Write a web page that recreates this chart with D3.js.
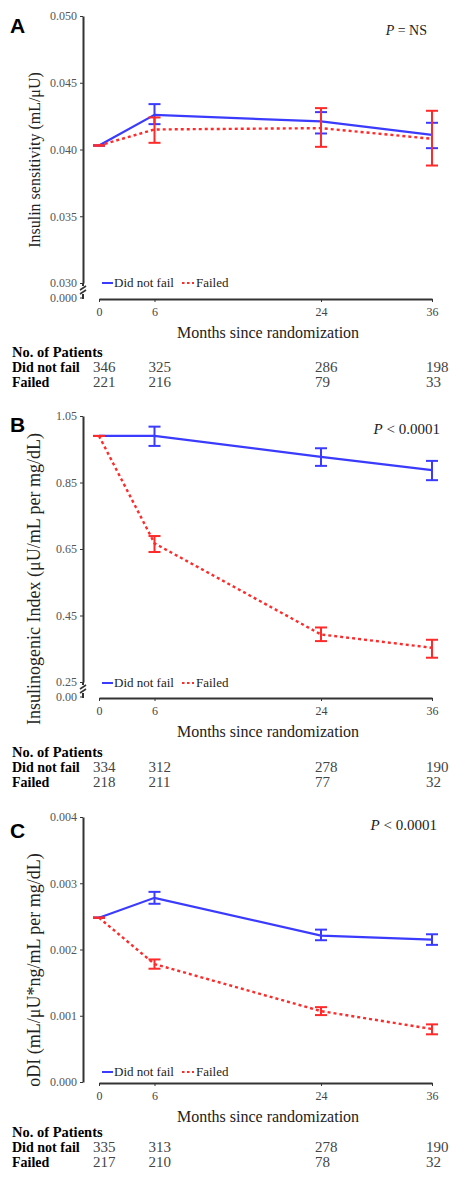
<!DOCTYPE html>
<html>
<head>
<meta charset="utf-8">
<script src="https://cdn.jsdelivr.net/npm/d3@7"></script>
<style>
body { margin: 0; background: #fff; }
svg text { font-family: "Liberation Serif", "Times New Roman", serif; }
</style>
</head>
<body>
<svg id="chart" width="450" height="1178"></svg>
<script>
//////////////////////////////////////////////////////////////////////////////
// data

var months = [0, 6, 24, 36];

// A: insulin sensitivity
var aNotFail   = [0.0403, 0.0426, 0.0421, 0.0411];
var aNotFailLo = [0.0403, 0.0419, 0.0412, 0.0401];
var aNotFailHi = [0.0403, 0.0434, 0.0428, 0.0420];
var aFailed    = [0.0403, 0.0415, 0.0416, 0.0408];
var aFailedLo  = [0.0403, 0.0405, 0.0402, 0.0388];
var aFailedHi  = [0.0403, 0.0424, 0.0431, 0.0429];
var aTicks = [0.030, 0.035, 0.040, 0.045, 0.050];
var aPatientsNotFail = [346, 325, 286, 198];
var aPatientsFailed  = [221, 216, 79, 33];

// B: insulinogenic index
var bNotFail   = [0.99, 0.99, 0.927, 0.887];
var bNotFailLo = [0.99, 0.96, 0.90, 0.857];
var bNotFailHi = [0.99, 1.018, 0.953, 0.915];
var bFailed    = [0.99, 0.667, 0.393, 0.353];
var bFailedLo  = [0.99, 0.641, 0.373, 0.323];
var bFailedHi  = [0.99, 0.689, 0.414, 0.377];
var bTicks = [0.25, 0.45, 0.65, 0.85, 1.05];
var bPatientsNotFail = [334, 312, 278, 190];
var bPatientsFailed  = [218, 211, 77, 32];

// C: oDI
var cNotFail   = [0.00248, 0.00278, 0.00221, 0.00215];
var cNotFailLo = [0.00248, 0.00269, 0.00214, 0.00207];
var cNotFailHi = [0.00248, 0.00287, 0.00230, 0.00223];
var cFailed    = [0.00248, 0.00178, 0.00107, 0.00080];
var cFailedLo  = [0.00248, 0.00171, 0.00101, 0.00072];
var cFailedHi  = [0.00248, 0.00185, 0.00113, 0.00087];
var cTicks = [0.000, 0.001, 0.002, 0.003, 0.004];
var cPatientsNotFail = [335, 313, 278, 190];
var cPatientsFailed  = [217, 210, 78, 32];

var BLUE = "#3b3bff";
var RED = "#ff2a2a";
var AXIS = "#333";

var svg = d3.select("#chart");
var x = d3.scaleLinear().domain([0, 36]).range([99, 432]);

function series(vals, lo, hi) {
    return months.map(function (t, i) { return { t: t, v: vals[i], lo: lo[i], hi: hi[i] }; });
}

function drawGroup(g, y, data, color, dashed) {
    var bars = g.append("g").selectAll("g").data(data).enter().append("g")
        .attr("stroke", color).attr("stroke-width", 2);
    bars.append("line")
        .attr("x1", function (d) { return x(d.t); }).attr("x2", function (d) { return x(d.t); })
        .attr("y1", function (d) { return y(d.lo); }).attr("y2", function (d) { return y(d.hi); });
    ["lo", "hi"].forEach(function (k) {
        bars.append("line")
            .attr("x1", function (d) { return x(d.t) - 6; }).attr("x2", function (d) { return x(d.t) + 6; })
            .attr("y1", function (d) { return y(d[k]); }).attr("y2", function (d) { return y(d[k]); });
    });
    g.append("path").datum(data)
        .attr("fill", "none").attr("stroke", color)
        .attr("stroke-width", dashed ? 2.4 : 2.2)
        .attr("stroke-dasharray", dashed ? "3,3" : null)
        .attr("d", d3.line().x(function (d) { return x(d.t); }).y(function (d) { return y(d.v); }));
}

function drawPanel(p) {
    var g = svg.append("g");
    var y = d3.scaleLinear().domain([p.ticks[0], p.ticks[p.ticks.length - 1]]).range([p.yBottom, p.yTop]);

    // panel letter
    g.append("text").attr("x", 10).attr("y", p.letterY)
        .style("font-family", "'Liberation Sans', Arial, sans-serif")
        .style("font-weight", "bold").style("font-size", "21px").text(p.letter);

    // y axis
    var ya = g.append("g").attr("transform", "translate(83,0)")
        .call(d3.axisLeft(y).tickValues(p.ticks).tickFormat(p.fmt).tickSize(3).tickSizeOuter(0).tickPadding(3));
    ya.select(".domain").attr("stroke", AXIS).attr("stroke-width", 2);
    ya.selectAll(".tick line").attr("stroke", AXIS);
    ya.selectAll(".tick text").attr("fill", "#555").style("font-size", "12px")
        .style("font-family", "'Liberation Serif', serif");

    if (p.zeroY) {
        // axis break down to the zero label
        var b = p.yBottom;
        g.append("line").attr("x1", 83).attr("x2", 83).attr("y1", b).attr("y2", b + 3)
            .attr("stroke", AXIS).attr("stroke-width", 2);
        [b + 5, b + 9].forEach(function (yy) {
            g.append("line").attr("x1", 80).attr("x2", 86).attr("y1", yy + 2).attr("y2", yy - 2)
                .attr("stroke", AXIS).attr("stroke-width", 1.6);
        });
        g.append("line").attr("x1", 83).attr("x2", 83).attr("y1", b + 11).attr("y2", p.zeroY + 1)
            .attr("stroke", AXIS).attr("stroke-width", 2);
        g.append("line").attr("x1", 80).attr("x2", 83).attr("y1", p.zeroY).attr("y2", p.zeroY)
            .attr("stroke", AXIS);
        g.append("text").attr("x", 77).attr("y", p.zeroY).attr("dy", "0.32em")
            .attr("text-anchor", "end").attr("fill", "#555").style("font-size", "12px")
            .text(p.zeroLabel);
    }

    // y title
    g.append("text").attr("transform", "translate(40," + p.titleY + ") rotate(-90)")
        .attr("text-anchor", "middle").style("font-size", p.titleSize + "px").attr("fill", "#222")
        .text(p.title);

    // x axis
    var xa = g.append("g").attr("transform", "translate(0," + p.xAxisY + ")")
        .call(d3.axisBottom(x).tickValues(months).tickSize(3).tickSizeOuter(0).tickPadding(5));
    xa.select(".domain").attr("stroke", AXIS).attr("stroke-width", 2);
    xa.selectAll(".tick line").attr("stroke", AXIS);
    xa.selectAll(".tick text").attr("fill", "#444").style("font-size", "12px")
        .style("font-family", "'Liberation Serif', serif");

    g.append("text").attr("x", 268).attr("y", p.xAxisY + 39).attr("text-anchor", "middle")
        .style("font-size", "16px").attr("fill", "#222").text("Months since randomization");

    // P value
    var pt = g.append("text").attr("x", p.pX).attr("y", p.pY).attr("text-anchor", "end")
        .style("font-size", p.pSize + "px").attr("fill", "#222");
    pt.append("tspan").style("font-style", "italic").text("P");
    pt.append("tspan").text(p.pText);

    // series
    drawGroup(g.append("g"), y, series(p.notFail, p.notFailLo, p.notFailHi), BLUE, false);
    drawGroup(g.append("g"), y, series(p.failed, p.failedLo, p.failedHi), RED, true);

    // legend
    var ly = p.legendY;
    g.append("line").attr("x1", 102).attr("x2", 113).attr("y1", ly).attr("y2", ly)
        .attr("stroke", BLUE).attr("stroke-width", 2);
    g.append("text").attr("x", 114).attr("y", ly + 4).style("font-size", "13px").attr("fill", "#222")
        .text("Did not fail");
    g.append("line").attr("x1", 182).attr("x2", 194).attr("y1", ly).attr("y2", ly)
        .attr("stroke", RED).attr("stroke-width", 2).attr("stroke-dasharray", "2.5,2.5");
    g.append("text").attr("x", 196).attr("y", ly + 4).style("font-size", "13px").attr("fill", "#222")
        .text("Failed");

    // number at risk table
    var t = p.tableY;
    g.append("text").attr("x", 12).attr("y", t[0]).style("font-size", "14.5px")
        .style("font-weight", "bold").text("No. of Patients");
    [["Did not fail", p.nNotFail, t[1]], ["Failed", p.nFailed, t[2]]].forEach(function (row) {
        g.append("text").attr("x", 12).attr("y", row[2]).style("font-size", "14px")
            .style("font-weight", "bold").text(row[0]);
        g.selectAll(null).data(row[1]).enter().append("text")
            .attr("x", function (d, i) { return x(months[i]) - 6; })
            .attr("y", row[2]).style("font-size", "15px").attr("fill", "#444")
            .text(function (d) { return d; });
    });
}

drawPanel({
    letter: "A", letterY: 33,
    ticks: aTicks, fmt: d3.format(".3f"), yTop: 16, yBottom: 283, zeroY: 298, zeroLabel: "0.000",
    title: "Insulin sensitivity (mL/\u03bcU)", titleY: 160, titleSize: 16,
    xAxisY: 299, pX: 427, pY: 35, pSize: 14, pText: " = NS", legendY: 283,
    notFail: aNotFail, notFailLo: aNotFailLo, notFailHi: aNotFailHi,
    failed: aFailed, failedLo: aFailedLo, failedHi: aFailedHi,
    nNotFail: aPatientsNotFail, nFailed: aPatientsFailed, tableY: [357, 372, 387]
});

drawPanel({
    letter: "B", letterY: 432,
    ticks: bTicks, fmt: d3.format(".2f"), yTop: 416, yBottom: 682, zeroY: 697, zeroLabel: "0.00",
    title: "Insulinogenic Index (\u03bcU/mL per mg/dL)", titleY: 579, titleSize: 18,
    xAxisY: 698, pX: 440, pY: 434, pSize: 15, pText: " < 0.0001", legendY: 683,
    notFail: bNotFail, notFailLo: bNotFailLo, notFailHi: bNotFailHi,
    failed: bFailed, failedLo: bFailedLo, failedHi: bFailedHi,
    nNotFail: bPatientsNotFail, nFailed: bPatientsFailed, tableY: [757, 772, 787]
});

drawPanel({
    letter: "C", letterY: 838,
    ticks: cTicks, fmt: d3.format(".3f"), yTop: 817, yBottom: 1082, zeroY: null,
    title: "oDI (mL/\u03bcU*ng/mL per mg/dL)", titleY: 970, titleSize: 18,
    xAxisY: 1083, pX: 437, pY: 830, pSize: 15, pText: " < 0.0001", legendY: 1072,
    notFail: cNotFail, notFailLo: cNotFailLo, notFailHi: cNotFailHi,
    failed: cFailed, failedLo: cFailedLo, failedHi: cFailedHi,
    nNotFail: cPatientsNotFail, nFailed: cPatientsFailed, tableY: [1137, 1152, 1167]
});
</script>
</body>
</html>
